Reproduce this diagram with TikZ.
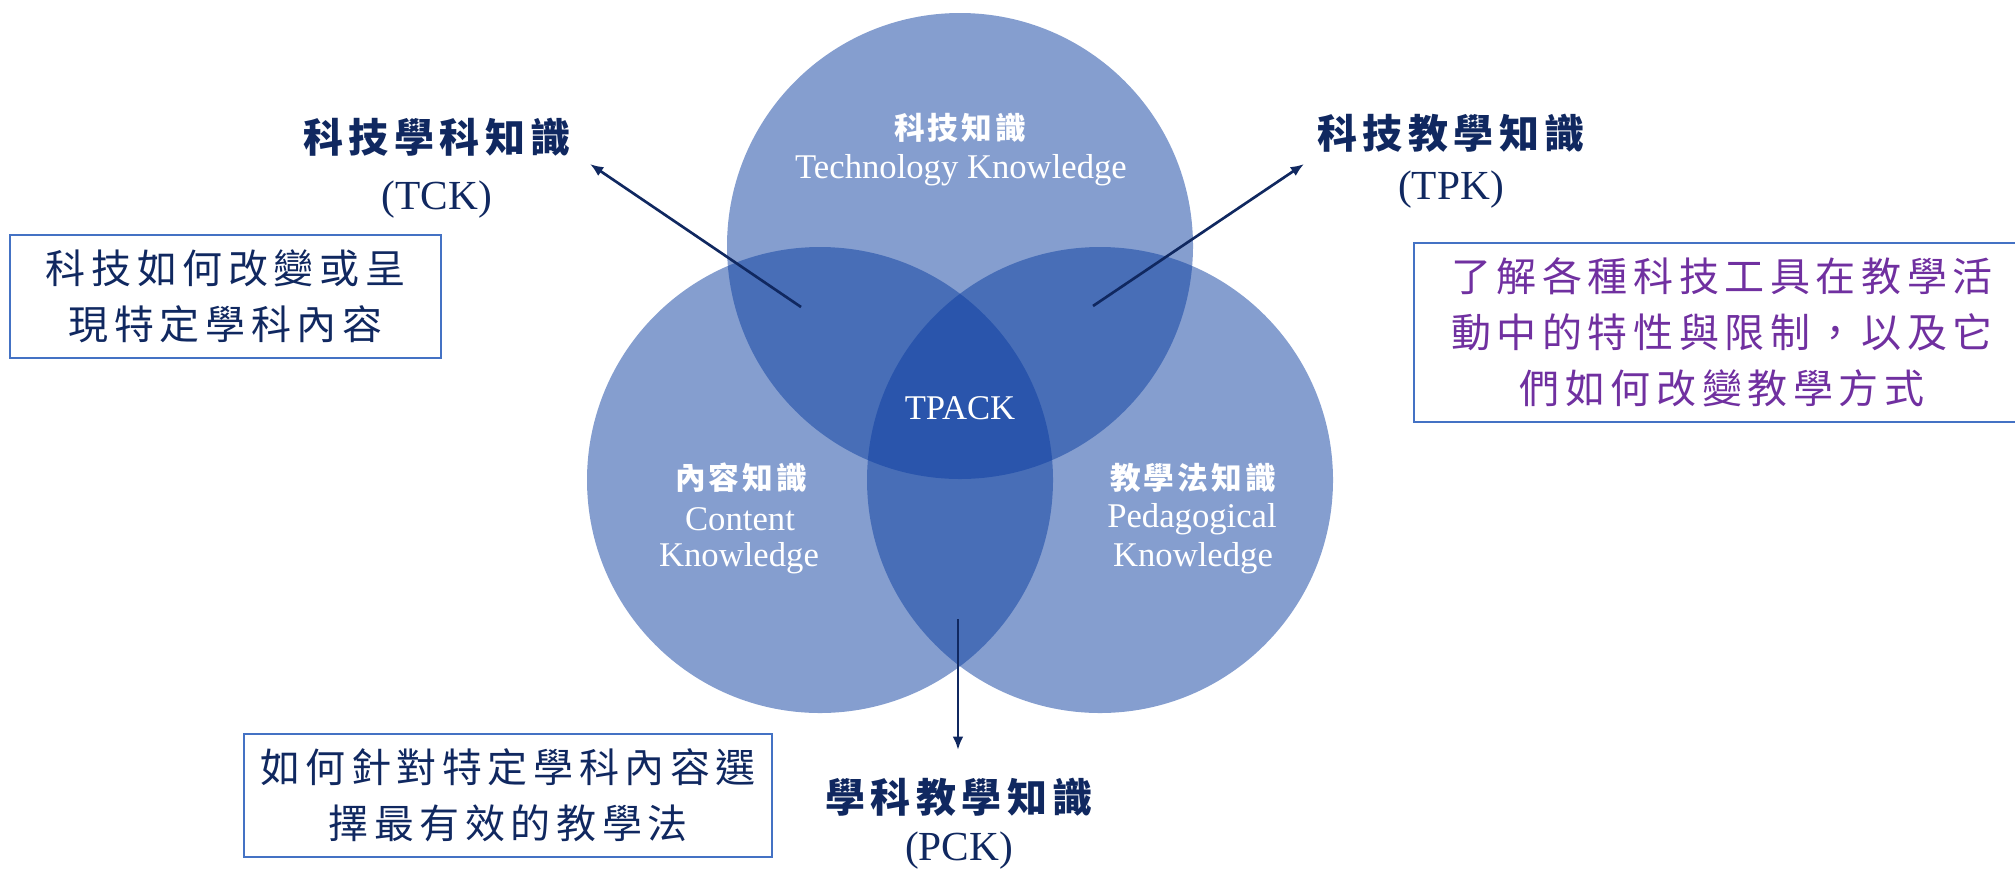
\documentclass[tikz,border=0pt]{standalone}
\usepackage{fontspec}
\setmainfont{Liberation Serif}
\newfontfamily\cjkbox[LetterSpace=14]{Noto Sans CJK TC}
\newfontfamily\cjkin[LetterSpace=10]{Noto Sans CJK TC}
\usetikzlibrary{arrows.meta}
\definecolor{vennblue}{RGB}{12,62,160}
\definecolor{navy}{RGB}{16,40,96}
\definecolor{boxblue}{RGB}{68,114,196}
\definecolor{tpurple}{RGB}{112,48,160}
\begin{document}
\begin{tikzpicture}[x=0.75pt,y=-0.75pt,
 venn/.style={circle, minimum size=466*0.75pt, inner sep=0pt, fill=vennblue, fill opacity=0.5},
 intext/.style={text=white, font=\fontsize{26}{30}\selectfont, inner sep=0pt},
 incjk/.style={text=white, font=\cjkin\bfseries\fontsize{23}{28}\selectfont, inner sep=0pt},
 headcjk/.style={text=navy, font=\cjkbox\bfseries\fontsize{30}{36}\selectfont, inner sep=0pt},
 headlat/.style={text=navy, font=\fontsize{31}{36}\selectfont, inner sep=0pt},
 descbox/.style={draw=boxblue, line width=1.5pt, align=center, inner sep=0pt, minimum height=123*0.75pt, font=\cjkbox\fontsize{30}{42}\selectfont},
 pointer/.style={draw=navy, line width=2pt, -{Latex[length=10pt,width=8pt]}}
]
\useasboundingbox (0,0) rectangle (2015,872);
% circles
\node[venn] (tk) at (960,246) {};
\node[venn] (ck) at (820,480) {};
\node[venn] (pk) at (1100,480) {};
% circle texts
\node[incjk] (tkzh) at (960,128) {科技知識};
\node[intext] (tken) at (961,170) {Technology Knowledge};
\node[intext] (tpack) at (960,408) {TPACK};
\node[incjk] (ckzh) at (741,478) {內容知識};
\node[intext] (cken1) at (740,519) {Content};
\node[intext] (cken2) at (739,558) {Knowledge};
\node[incjk] (pkzh) at (1193,478) {教學法知識};
\node[intext] (pken1) at (1192,519) {Pedagogical};
\node[intext] (pken2) at (1193,558) {Knowledge};
% titles
\node[headcjk] (tckzh) at (437,137) {科技學科知識};
\node[headlat] (tcken) at (437,200) {(TCK)};
\node[headcjk] (tpkzh) at (1451,133) {科技教學知識};
\node[headlat] (tpken) at (1451,190) {(TPK)};
\node[headcjk] (pckzh) at (959,797) {學科教學知識};
\node[headlat] (pcken) at (959,851) {(PCK)};
% description boxes
\node[descbox, minimum width=431*0.75pt, text=navy] (tckbox) at (225.5,296.5) {科技如何改變或呈\\現特定學科內容};
\node[descbox, minimum width=616*0.75pt, minimum height=179*0.75pt, text=tpurple] (tpkbox) at (1722,332.5) {了解各種科技工具在教學活\\動中的特性與限制，以及它\\們如何改變教學方式};
\node[descbox, minimum width=528*0.75pt, text=navy] (pckbox) at (508,795.5) {如何針對特定學科內容選\\擇最有效的教學法};
% arrows
\coordinate (tckfrom) at (801,307);
\coordinate (tckto) at (590,164);
\coordinate (tpkfrom) at (1093,306);
\coordinate (tpkto) at (1304,164);
\coordinate (pckfrom) at (958,619);
\coordinate (pckto) at (958,750);
\draw[pointer] (tckfrom) -- (tckto);
\draw[pointer] (tpkfrom) -- (tpkto);
\draw[pointer] (pckfrom) -- (pckto);
\end{tikzpicture}
\end{document}
